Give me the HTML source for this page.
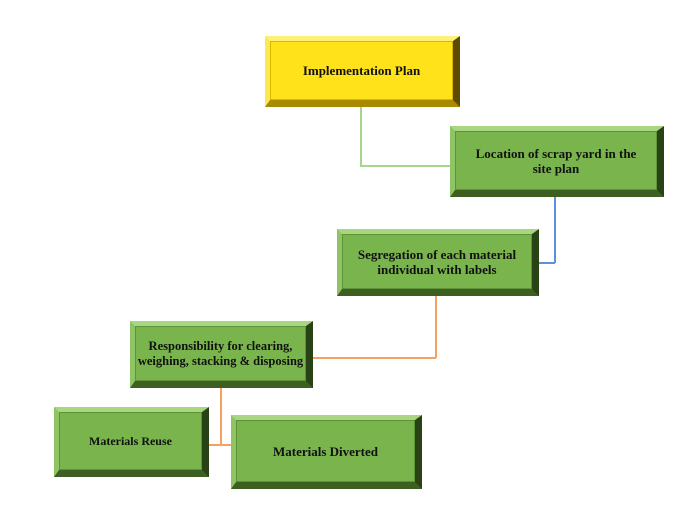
<!DOCTYPE html>
<html><head><meta charset="utf-8"><style>
body{margin:0;width:680px;height:514px;background:#fff;position:relative;overflow:hidden;font-family:"Liberation Serif",serif;}
.b{position:absolute;box-sizing:border-box;border-style:solid;border-width:5px 7px 7px 5px;display:flex;align-items:center;justify-content:center;text-align:center;font-weight:bold;font-size:13px;line-height:15px;color:#111;}
.g{background:#79b54c;border-color:#a9d683 #2a4316 #3e5f22 #8fc466;box-shadow:inset 0 0 0 1px #5f9436;}
.y{background:#ffe21a;border-color:#fff07a #5e4b00 #a88a00 #ffe94a;box-shadow:inset 0 0 0 1px #d8b800;}
.l{position:absolute;}
</style></head><body>
<div class="l" style="left:360px;top:106px;width:1.5px;height:60px;background:#a6d68a"></div>
<div class="l" style="left:360px;top:165px;width:92px;height:1.5px;background:#a6d68a"></div>
<div class="l" style="left:554px;top:196px;width:1.5px;height:67px;background:#5b8fe0"></div>
<div class="l" style="left:538px;top:262px;width:17px;height:1.5px;background:#5b8fe0"></div>
<div class="l" style="left:435px;top:295px;width:1.5px;height:63px;background:#f7a060"></div>
<div class="l" style="left:312px;top:357px;width:124px;height:1.5px;background:#f7a060"></div>
<div class="l" style="left:220px;top:387px;width:1.5px;height:58px;background:#f7a060"></div>
<div class="l" style="left:208px;top:444px;width:25px;height:1.5px;background:#f7a060"></div>

<div class="b y" style="left:265px;top:36px;width:195px;height:71px;">Implementation Plan</div>
<div class="b g" style="left:450px;top:126px;width:214px;height:71px;">Location of scrap yard in the<br>site plan</div>
<div class="b g" style="left:337px;top:229px;width:202px;height:67px;">Segregation of each material<br>individual with labels</div>
<div class="b g" style="left:130px;top:321px;width:183px;height:67px;font-size:12.5px;">Responsibility for clearing,<br>weighing, stacking &amp; disposing</div>
<div class="b g" style="left:54px;top:407px;width:155px;height:70px;font-size:12px;">Materials Reuse</div>
<div class="b g" style="left:231px;top:415px;width:191px;height:74px;">Materials Diverted</div>
</body></html>
